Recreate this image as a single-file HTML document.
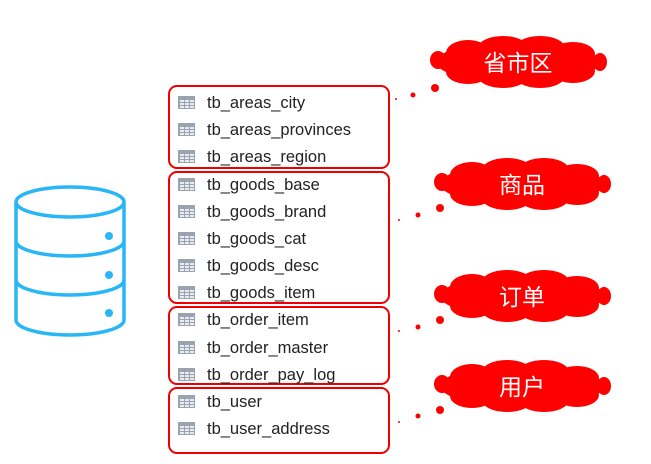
<!DOCTYPE html>
<html><head><meta charset="utf-8"><style>
body{margin:0;background:#fff;width:651px;height:464px;overflow:hidden;position:relative;font-family:"Liberation Sans","Noto Sans CJK SC",sans-serif}
.row{position:absolute;left:178px;font-size:16.5px;color:#222;height:20px;line-height:20px}
.ic{display:inline-block;width:17px;height:13px;vertical-align:-1px;margin-right:12px;background:
linear-gradient(#9aa4b0,#9aa4b0) 0 0/100% 3px no-repeat,
repeating-linear-gradient(90deg,#9aa4b0 0 1px,#e8ecf0 1px 5px),#e8ecf0;border:1px solid #9aa4b0;box-sizing:border-box;position:relative}
.ic:after{content:"";position:absolute;left:0;right:0;top:2px;bottom:0;background:repeating-linear-gradient(#9aa4b0 0 1px,transparent 1px 3px)}
.box{position:absolute;left:168px;width:222px;border:2.5px solid #e00;border-radius:9px;box-sizing:border-box}
</style></head><body>
<svg width="651" height="464" style="position:absolute;left:0;top:0">
<g fill="none" stroke="#29b6f6" stroke-width="3.5">
<ellipse cx="70" cy="202" rx="54" ry="15"/>
<path d="M16 202 V320 A54 15 0 0 0 124 320 V202"/>
<path d="M16 241 A54 15 0 0 0 124 241"/>
<path d="M16 280 A54 15 0 0 0 124 280"/>
</g>
<g fill="#29b6f6"><circle cx="109" cy="236" r="4"/><circle cx="109" cy="275" r="4"/><circle cx="109" cy="313" r="4"/></g>
<defs><g id="cl" fill="#f00">
<ellipse cx="0" cy="0" rx="82" ry="21"/>
<ellipse cx="-50" cy="-9" rx="22" ry="13"/><ellipse cx="-15" cy="-14" rx="25" ry="12"/><ellipse cx="22" cy="-14" rx="25" ry="12"/><ellipse cx="55" cy="-8" rx="22" ry="12"/>
<ellipse cx="-50" cy="10" rx="22" ry="12"/><ellipse cx="-15" cy="14" rx="25" ry="12"/><ellipse cx="22" cy="14" rx="25" ry="12"/><ellipse cx="55" cy="9" rx="22" ry="12"/>
<ellipse cx="-80" cy="-2" rx="8" ry="9"/><ellipse cx="82" cy="0" rx="7" ry="9"/>
</g></defs>
<use href="#cl" x="518" y="62"/><use href="#cl" x="522" y="184"/><use href="#cl" x="522" y="296"/><use href="#cl" x="522" y="386"/>
<g fill="#f00">
<circle cx="435" cy="88" r="4"/><circle cx="413" cy="95" r="2.5"/><circle cx="396" cy="99" r="1"/>
<circle cx="440" cy="208" r="4"/><circle cx="418" cy="215" r="2.5"/><circle cx="399" cy="220" r="1"/>
<circle cx="440" cy="320" r="4"/><circle cx="418" cy="327" r="2.5"/><circle cx="399" cy="331" r="1"/>
<circle cx="440" cy="410" r="4"/><circle cx="418" cy="416" r="2.5"/><circle cx="399" cy="422" r="1"/>
</g>
<g fill="#fff" font-size="23" text-anchor="middle" font-family="Noto Sans CJK SC,sans-serif">
<text x="518" y="71">省市区</text><text x="522" y="193">商品</text><text x="522" y="305">订单</text><text x="522" y="395">用户</text>
</g>
</svg>
<div class="box" style="top:85px;height:84px"></div>
<div class="box" style="top:171px;height:133px"></div>
<div class="box" style="top:306px;height:79px"></div>
<div class="box" style="top:387px;height:67px"></div>
<div class="row" style="top:93px"><span class="ic"></span>tb_areas_city</div>
<div class="row" style="top:120px"><span class="ic"></span>tb_areas_provinces</div>
<div class="row" style="top:147px"><span class="ic"></span>tb_areas_region</div>
<div class="row" style="top:175px"><span class="ic"></span>tb_goods_base</div>
<div class="row" style="top:202px"><span class="ic"></span>tb_goods_brand</div>
<div class="row" style="top:229px"><span class="ic"></span>tb_goods_cat</div>
<div class="row" style="top:256px"><span class="ic"></span>tb_goods_desc</div>
<div class="row" style="top:283px"><span class="ic"></span>tb_goods_item</div>
<div class="row" style="top:310px"><span class="ic"></span>tb_order_item</div>
<div class="row" style="top:338px"><span class="ic"></span>tb_order_master</div>
<div class="row" style="top:365px"><span class="ic"></span>tb_order_pay_log</div>
<div class="row" style="top:392px"><span class="ic"></span>tb_user</div>
<div class="row" style="top:419px"><span class="ic"></span>tb_user_address</div>
</body></html>
